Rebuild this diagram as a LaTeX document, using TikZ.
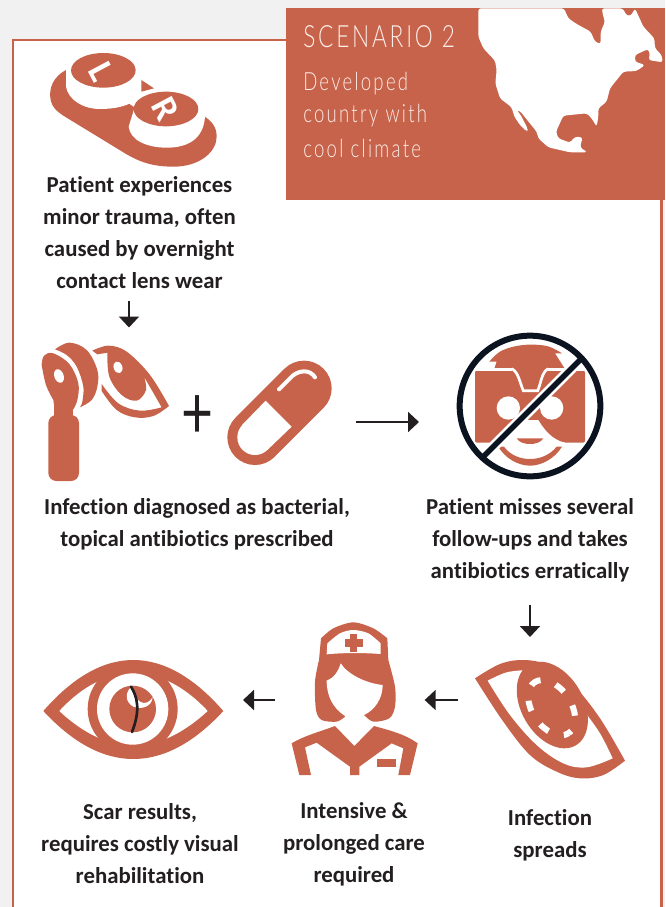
\documentclass[tikz,border=0pt]{standalone}
\usepackage{fontspec}
\setmainfont[Ligatures=NoCommon]{Carlito}
\newfontfamily\bannerfont[FakeStretch=0.74,LetterSpace=9]{Lato Light}
\newfontfamily\plusfont{Lato}
\usepackage{xcolor}
\usetikzlibrary{arrows.meta,positioning}
\definecolor{brick}{HTML}{C8634B}
\definecolor{pagegrey}{HTML}{F1F1F1}
\definecolor{inkblack}{HTML}{231F20}
\definecolor{navy}{HTML}{0B1220}
\definecolor{paleink}{HTML}{FBEDE8}

\begin{document}
\begin{tikzpicture}[
    x=0.75pt, y=-0.75pt,
    zoomed/.style={x=0.25pt, y=-0.25pt},
    caption/.style={font=\fontsize{17.1}{24}\selectfont\bfseries, text=inkblack, align=center, inner sep=0pt},
    bannertext/.style={text=paleink, anchor=west, inner sep=0pt},
    iconbox/.style={rectangle, inner sep=0pt, outer sep=0pt},
    flow/.style={-{Triangle[length=8.25pt, width=15pt]}, line width=1.5pt, draw=inkblack}
]
    \useasboundingbox (0,0) rectangle (665,907);
    \fill[pagegrey] (0,0) rectangle (665,907);
    \draw[brick, line width=2pt, fill=white] (13,40) rectangle (661.5,920);
    \fill[brick] (286,8) rectangle (665,200);

    % map
    \begin{scope}[shift={(470,0)}, zoomed]
        \fill[white, rounded corners=2pt] (25,25) -- (25,110) -- (40,145) -- (75,182) -- (80,210) -- (76,250) -- (90,295) -- (125,322)
            -- (133,350) -- (150,375) -- (170,395) -- (174,388) -- (152,345) -- (140,330) -- (150,333) -- (178,368) -- (200,395) -- (205,415) -- (235,442)
            -- (300,457) -- (352,457) -- (330,442) -- (338,412) -- (315,410) -- (300,428) -- (265,415) -- (258,395)
            -- (280,347) -- (350,340) -- (365,355) -- (380,380) -- (385,350) -- (385,325) -- (410,305) -- (420,265)
            -- (460,215) -- (500,213) -- (525,195) -- (495,185) -- (495,165) -- (535,147) -- (540,165) -- (535,180)
            -- (578,187) -- (575,165) -- (555,145) -- (553,115) -- (520,80) -- (495,25) -- (483,47) -- (470,47) -- (458,25)
            -- (395,25) -- (400,50) -- (405,65) -- (392,95) -- (392,132) -- (375,125) -- (362,95) -- (320,72) -- (295,55) -- (282,25) -- cycle;
    \end{scope}

    \node[bannertext, font=\bannerfont\fontsize{23}{26}\selectfont] (scenario) at (303,37) {SCENARIO 2};
    \node[bannertext, font=\bannerfont\fontsize{18.8}{24}\selectfont] (setting1) at (303,84) {Developed};
    \node[bannertext, font=\bannerfont\fontsize{18.8}{24}\selectfont] (setting2) at (303,116) {country with};
    \node[bannertext, font=\bannerfont\fontsize{18.8}{24}\selectfont] (setting3) at (303,148) {cool climate};

    % lens case
    \begin{scope}[shift={(40,45)}, zoomed]
        \fill[brick] (78,75) .. controls (40,95) and (25,130) .. (32,165) .. controls (38,190) and (50,198) .. (70,212)
            -- (255,325) .. controls (300,352) and (340,365) .. (400,365) .. controls (480,365) and (530,320) .. (530,275)
            .. controls (530,245) and (515,228) .. (490,212) -- (378,250) -- (270,178) -- (175,130) -- cycle;
        \fill[white] (78,75) -- (78,125) .. controls (85,165) and (130,192) .. (180,192) .. controls (220,192) and (250,185) .. (270,175) -- (288,76) -- cycle;
        \fill[white] (283,190) -- (266,245) .. controls (270,285) and (320,308) .. (380,308) .. controls (440,308) and (490,285) .. (495,215) -- (476,190) -- cycle;
        \fill[brick] (190,76) ellipse[x radius=97, y radius=52];
        \fill[brick] (378,192) ellipse[x radius=97, y radius=52];
        \fill[brick] (304,105) -- (342,130) -- (304,140) -- cycle;
        \node[iconbox, text=white, font=\fontsize{27}{27}\selectfont\bfseries, rotate=-62] (capL) at (183,80) {L};
        \node[iconbox, text=white, font=\fontsize{27}{27}\selectfont\bfseries, rotate=-62] (capR) at (378,191) {R};
    \end{scope}

    % scope and eye
    \begin{scope}[shift={(20,320)}, zoomed]
        \fill[brick, rounded corners=6pt] (85,285) rectangle (177,483);
        \fill[brick] (103,240) rectangle (160,300);
        \fill[brick] plot[smooth, tension=.6] coordinates {(65,135) (72,107) (100,100) (148,132) (175,190) (172,240) (160,268)} -- (103,262) -- plot[smooth, tension=.6] coordinates {(100,240) (78,195) (65,135)} -- cycle;
        \fill[white, rotate around={20:(117,168)}] (117,168) ellipse[x radius=14, y radius=21];
        \fill[brick] plot[smooth, tension=.6] coordinates {(105,88) (148,68) (200,90) (232,150) (232,200) (215,240) (180,262)} -- plot[smooth, tension=.6] coordinates {(186,250) (190,200) (170,140) (140,105) (105,88)} -- cycle;
        \fill[brick] plot[smooth, tension=.6] coordinates {(217,92) (265,77) (320,95) (390,165) (447,258)} -- plot[smooth, tension=.6] coordinates {(447,258) (400,288) (345,292) (290,270) (245,213)}
            -- (245,192) -- plot[smooth, tension=.6] coordinates {(245,192) (295,250) (360,272) (425,262)} -- (372,170) -- plot[smooth, tension=.6] coordinates {(372,170) (378,210) (350,242) (305,225) (268,170) (262,98)} -- (232,103) -- cycle;
        \fill[white, rotate around={20:(294,142)}] (294,142) ellipse[x radius=13, y radius=18];
    \end{scope}
    \node[iconbox, minimum width=58.5pt, minimum height=101.25pt] (scopebox) at (129,412) {};

    \node[iconbox, text=inkblack, font=\plusfont\fontsize{46}{46}\selectfont, xscale=.9, yscale=1.2, transform shape] (plus) at (197.5,417) {+};

    % pill
    \begin{scope}[shift={(20,320)}, zoomed]
        \draw[brick, line width=41.5pt, line cap=round] (705,352) -- (852,205);
        \fill[white] (705,352) circle[radius=53];
        \fill[white] (737,242) -- (667,314) -- (742,390) -- (815,320) -- cycle;
        \draw[white, line width=3pt, line cap=round] (777,208) -- (818,167) .. controls (840,150) and (870,148) .. (885,172);
    \end{scope}
    \node[iconbox, minimum width=78.75pt, minimum height=78.75pt] (pillbox) at (279.5,422) {};

    % crossed out face
    \begin{scope}[shift={(440,330)}, zoomed]
        \fill[brick] plot[smooth, tension=.6] coordinates {(148,95) (185,62) (250,45) (320,48) (366,70)} -- (345,70) -- (380,125) -- (160,125) -- (170,95) -- cycle;
        \fill[brick, rounded corners=1.5pt] (105,122) rectangle (435,338);
        \draw[white, line width=2pt] (215,116) .. controls (235,125) and (240,160) .. (250,182) -- (293,182) .. controls (303,160) and (305,125) .. (325,116);
        \draw[white, line width=2pt] (105,119) -- (215,119) (325,119) -- (435,119);
        \fill[white] (205,234) circle[radius=35];
        \fill[white] (335,234) circle[radius=35];
        \fill[white] (240,270) -- (295,270) .. controls (310,295) and (335,330) .. (375,338) -- (375,345) -- (165,345) -- cycle;
        \fill[brick] (230,325) -- (310,325) .. controls (302,338) and (285,342) .. (270,342) .. controls (255,342) and (238,338) .. cycle;
        \fill[brick] (175,350) .. controls (195,385) and (235,407) .. (270,407) .. controls (305,407) and (345,385) .. (366,350) -- (350,350) .. controls (330,375) and (300,387) .. (270,387) .. controls (240,387) and (210,375) .. (192,350) -- cycle;
        \draw[white, line width=8pt] (130,380) -- (420,90);
        \draw[navy, line width=4pt] (125,385) -- (425,85);
        \draw[navy, line width=4.5pt] (270,228) circle[radius=211];
    \end{scope}
    \node[iconbox, minimum width=109.5pt, minimum height=109.5pt] (facebox) at (530,422) {};

    % spreading eye
    \begin{scope}[shift={(440,640)}, zoomed]
        \fill[brick] plot[smooth, tension=.6] coordinates {(105,115) (180,72) (250,60) (320,75) (400,135) (480,235) (555,362)} -- plot[smooth, tension=.6] coordinates {(555,362) (490,405) (420,415) (350,395) (270,345) (190,245) (105,115)} -- cycle;
        \fill[white] plot[smooth, tension=.6] coordinates {(143,122) (200,97) (262,90)} -- (440,220) -- plot[smooth, tension=.6] coordinates {(430,210) (480,280) (518,355)} -- plot[smooth, tension=.6] coordinates {(518,355) (440,382) (370,370) (290,315) (210,225) (143,122)} -- cycle;
        \fill[brick, rotate around={-60:(337,195)}] (337,195) ellipse[x radius=140, y radius=93];
        \draw[white, line width=4.5pt, dash pattern=on 8pt off 12.13pt, dash phase=4pt, rotate around={-56:(335,203)}] (335,203) ellipse[x radius=92, y radius=58];
    \end{scope}
    \node[iconbox, minimum width=112.5pt, minimum height=88.5pt] (spreadbox) at (550,700) {};
    \node[iconbox, minimum width=1pt, minimum height=88.5pt] (spreadtop) at (530,719) {};

    % nurse
    \begin{scope}[shift={(20,610)}, zoomed]
        \fill[brick] plot[smooth, tension=.5] coordinates {(903,85) (940,55) (1000,37) (1060,55) (1102,85)} -- (1105,150) -- plot[smooth, tension=.5] coordinates {(1105,150) (1125,230) (1125,290) (1108,325) (1060,335) (1032,315)} -- (975,320) -- plot[smooth, tension=.5] coordinates {(975,320) (950,335) (905,330) (888,300) (885,215) (897,150)} -- cycle;
        \fill[white] plot[smooth, tension=.5] coordinates {(922,100) (960,70) (1000,60) (1045,70) (1082,100)} -- (1082,132) .. controls (1030,128) and (970,128) .. (920,133) -- cycle;
        \fill[brick] (990,72) rectangle (1012,127);
        \fill[brick] (975,88) rectangle (1030,110);
        \fill[white] (962,160) .. controls (985,195) and (1040,220) .. (1088,225) .. controls (1088,265) and (1065,300) .. (1032,315) -- (1032,345) -- (975,345) -- (975,318) .. controls (940,295) and (920,260) .. (920,212) .. controls (940,205) and (955,185) .. cycle;
        \fill[brick] (815,400) .. controls (850,378) and (900,365) .. (945,348) -- (1003,408) -- (1062,348) .. controls (1105,360) and (1155,372) .. (1193,400)
            -- (1170,495) -- (1135,495) -- (1150,415) -- (1115,400) -- (1018,470) -- (1018,495) -- (990,495) -- (990,470) -- (890,398) -- (855,412) -- (873,495) -- (838,495) -- cycle;
        \fill[brick] (1071,447) rectangle (1128,470);
    \end{scope}
    \node[iconbox, minimum width=94.5pt, minimum height=115pt] (nursebox) at (355,700) {};

    % scarred eye
    \begin{scope}[shift={(20,610)}, zoomed]
        \fill[brick] (70,303) .. controls (160,200) and (250,150) .. (340,150) .. controls (430,150) and (520,200) .. (610,303) .. controls (520,400) and (430,447) .. (340,447) .. controls (250,447) and (160,400) .. cycle;
        \fill[white] (118,303) .. controls (190,225) and (265,190) .. (340,190) .. controls (415,190) and (490,225) .. (563,303) .. controls (490,370) and (415,407) .. (340,407) .. controls (265,407) and (190,370) .. cycle;
        \fill[brick] (338,297) circle[radius=135];
        \fill[white] (338,297) circle[radius=107];
        \fill[brick] (338,297) circle[radius=70];
        \fill[white] (332,232) .. controls (315,250) and (315,275) .. (340,290) .. controls (365,300) and (395,290) .. (398,262) .. controls (390,275) and (375,285) .. (360,275) .. controls (350,270) and (345,250) .. cycle;
        \draw[inkblack, line width=2pt, line cap=round] (333,230) .. controls (352,260) and (362,300) .. (336,366);
    \end{scope}
    \node[iconbox, minimum width=135pt, minimum height=75pt] (scarbox) at (133,700) {};

    % captions
    \node[caption] (trauma) at (139.5,233) {Patient experiences\\minor trauma, often\\caused by overnight\\contact lens wear};
    \node[caption] (diagnosed) at (197,524) {Infection diagnosed as bacterial,\\topical antibiotics prescribed};
    \node[caption] (missed) at (530,540) {Patient misses several\\follow-ups and takes\\antibiotics erratically};
    \node[caption] (spreads) at (550,835) {Infection\\spreads};
    \node[caption] (care) at (354,844) {Intensive \&\\prolonged care\\required};
    \node[caption] (scar) at (140,844) {Scar results,\\requires costly visual\\rehabilitation};

    % connectors
    \draw[flow, shorten >=12.75pt, shorten <=9pt] (trauma.south -| scopebox) -- (scopebox.north);
    \draw[flow, shorten >=28.5pt, shorten <=18pt] (pillbox) -- (facebox);
    \draw[flow, shorten >=17.25pt, shorten <=17pt] (missed.south -| spreadtop) -- (spreadtop.north);
    \draw[flow, shorten >=5pt, shorten <=12.75pt] (spreadbox) -- (nursebox);
    \draw[flow, shorten >=15pt, shorten <=12.75pt] (nursebox) -- (scarbox);
\end{tikzpicture}
\end{document}
